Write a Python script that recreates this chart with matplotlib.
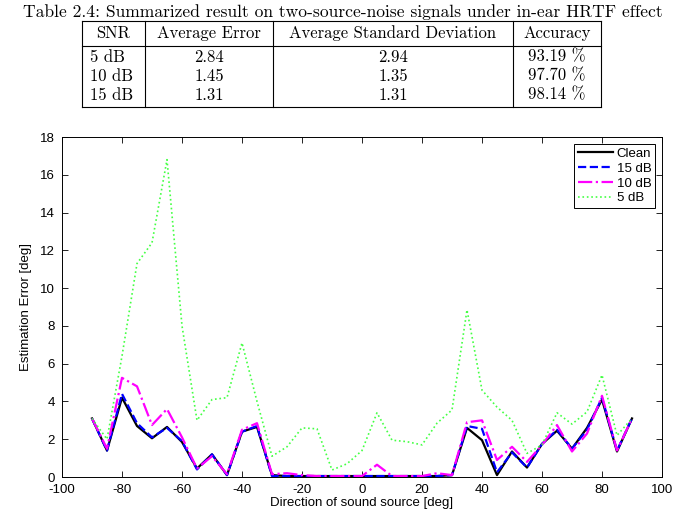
import numpy as np
import matplotlib
matplotlib.use('Agg')
import matplotlib.pyplot as plt
from matplotlib.lines import Line2D

plt.rcParams['font.family'] = ['Liberation Sans', 'DejaVu Sans']
plt.rcParams['axes.unicode_minus'] = False

# table data
caption = 'Table 2.4: Summarized result on two-source-noise signals under in-ear HRTF effect'
col_names = ['SNR', 'Average Error', 'Average Standard Deviation', 'Accuracy']
snr_rows = ['5 dB', '10 dB', '15 dB']
avg_error = ['2.84', '1.45', '1.31']
avg_std = ['2.94', '1.35', '1.31']
accuracy = ['93.19 %', '97.70 %', '98.14 %']

# plot data
direction = np.arange(-90, 95, 5)
clean = [3.1, 1.4, 4.2, 2.7, 2.05, 2.65, 1.85, 0.45, 1.2, 0.1, 2.4, 2.65, 0.1,
         0.05, 0.05, 0.05, 0.05, 0.05, 0.05, 0.05, 0.05, 0.05, 0.05, 0.05, 0.1,
         2.6, 1.95, 0.1, 1.35, 0.5, 1.75, 2.45, 1.5, 2.6, 4.1, 1.35, 3.1]
db15 = [3.1, 1.4, 4.4, 2.85, 2.1, 2.6, 1.9, 0.4, 1.2, 0.1, 2.4, 2.7, 0.05,
        0.05, 0.05, 0.05, 0.05, 0.05, 0.05, 0.05, 0.05, 0.05, 0.05, 0.05, 0.1,
        2.7, 2.55, 0.25, 1.3, 0.5, 1.75, 2.5, 1.5, 2.5, 4.2, 1.4, 3.1]
db10 = [3.1, 1.5, 5.25, 4.8, 2.75, 3.6, 2.1, 0.45, 1.1, 0.15, 2.5, 2.85, 0.15,
        0.2, 0.1, 0.05, 0.05, 0.05, 0.05, 0.65, 0.05, 0.05, 0.05, 0.2, 0.1,
        2.9, 3.0, 0.9, 1.6, 0.8, 1.7, 2.75, 1.35, 2.3, 4.3, 1.4, 3.1]
db5 = [3.1, 2.0, 6.4, 11.3, 12.4, 16.8, 8.0, 3.0, 4.1, 4.2, 7.1, 4.0, 1.1,
       1.6, 2.6, 2.55, 0.37, 0.7, 1.4, 3.4, 1.95, 1.87, 1.7, 2.85, 3.55,
       8.85, 4.6, 3.7, 3.0, 1.25, 1.7, 3.4, 2.8, 3.45, 5.4, 2.2, 3.1]

W, H = 673, 516
fig = plt.figure(figsize=(W / 100, H / 100), dpi=100)

# ---- table drawn in pixel coordinates ----
def fx(px):
    return px / W

def fy(py):
    return 1 - py / H

serif = ['cmr10', 'DejaVu Serif']
fig.text(fx(343), fy(12), caption, ha='center', va='center', fontsize=12.6, family=serif)

col_edges = [82, 145, 273, 513, 601]
row_lines = [21, 46, 107]
for y in row_lines:
    fig.add_artist(Line2D([fx(col_edges[0]), fx(col_edges[-1])], [fy(y), fy(y)],
                          transform=fig.transFigure, color='black', lw=0.8))
for x in col_edges:
    fig.add_artist(Line2D([fx(x), fx(x)], [fy(row_lines[0]), fy(row_lines[-1])],
                          transform=fig.transFigure, color='black', lw=0.8))

header_y = 33
row_y = [57, 76, 95]
for i, name in enumerate(col_names):
    cx = (col_edges[i] + col_edges[i + 1]) / 2
    fig.text(fx(cx), fy(header_y), name, ha='center', va='center', fontsize=12, family=serif)
for j in range(len(snr_rows)):
    fig.text(fx(col_edges[0] + 8), fy(row_y[j]), snr_rows[j], ha='left', va='center',
             fontsize=12, family=serif)
    for i, vals in enumerate([avg_error, avg_std, accuracy], start=1):
        cx = (col_edges[i] + col_edges[i + 1]) / 2
        fig.text(fx(cx), fy(row_y[j]), vals[j], ha='center', va='center',
                 fontsize=12, family=serif)

# ---- plot ----
ax = fig.add_axes([62 / W, (H - 477) / H, (662 - 62) / W, (477 - 137) / H])
ax.plot(direction, clean, color='black', lw=1.6, label='Clean')
ax.plot(direction, db15, color='#0000ff', lw=1.6, ls='--', label='15 dB')
ax.plot(direction, db10, color='#ff00ff', lw=1.6, ls='-.', label='10 dB')
ax.plot(direction, db5, color='#44ff44', lw=1.2, ls=':', label='5 dB')

ax.set_xlim(-100, 100)
ax.set_ylim(0, 18)
ax.set_xticks(np.arange(-100, 101, 20))
ax.set_yticks(np.arange(0, 19, 2))
ax.tick_params(direction='in', top=True, right=True, labelsize=9.5, length=4, width=0.6)
ax.tick_params(axis='x', pad=5)
ax.tick_params(axis='y', pad=5)
for s in ax.spines.values():
    s.set_linewidth(0.7)
ax.set_xlabel('Direction of sound source [deg]', fontsize=9.5, labelpad=1)
ax.set_ylabel('Estimation Error [deg]', fontsize=9.5, labelpad=6)

leg = ax.legend(loc='upper right', fontsize=9.5, fancybox=False, framealpha=1,
                edgecolor='black', handlelength=2.6, handletextpad=0.3,
                labelspacing=0.2, borderpad=0.3, borderaxespad=0.5)
leg.get_frame().set_linewidth(0.7)

fig.savefig('out.png', dpi=100)
